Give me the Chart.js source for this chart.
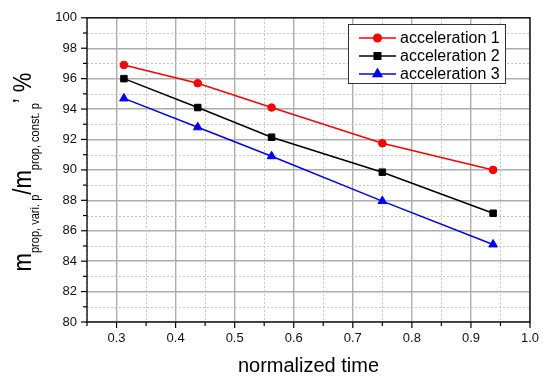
<!DOCTYPE html>
<html>
<head>
<meta charset="utf-8">
<script src="https://cdn.jsdelivr.net/npm/chart.js@4"></script>
<style>
  html, body { margin: 0; padding: 0; background: #fff; }
  #wrap { width: 550px; height: 378px; }
</style>
</head>
<body>
<div id="wrap"><canvas id="chart" width="550" height="378"></canvas></div>
<script>
const timeValues = [0.3125, 0.4375, 0.5625, 0.75, 0.9375];
const accel1 = [96.9, 95.7, 94.1, 91.75, 90.0];
const accel2 = [96.0, 94.1, 92.15, 89.85, 87.15];
const accel3 = [94.7, 92.8, 90.9, 87.95, 85.1];
const seriesNames = ["acceleration 1", "acceleration 2", "acceleration 3"];
const xTicks = [0.3, 0.4, 0.5, 0.6, 0.7, 0.8, 0.9, 1.0];
const yTicks = [80, 82, 84, 86, 88, 90, 92, 94, 96, 98, 100];

const FONT = "'Liberation Sans', Arial, sans-serif";
const majorGrid = "#adadad";
const minorGrid = "#c4c4c4";

function isMajor(v, list) {
  return list.some(t => Math.abs(t - v) < 1e-6);
}

function pts(ys) {
  return ys.map((y, i) => ({ x: timeValues[i], y }));
}

const styles = [
  { color: "#ff0000", pointStyle: "circle", radius: 3.8 },
  { color: "#000000", pointStyle: "rect", radius: 4.6 },
  { color: "#0000ff", pointStyle: "triangle", radius: 5 }
];

// frame, tick marks, y title and legend drawn on top of the chart
const decor = {
  id: "decor",
  beforeDatasetsDraw(chart) {
    const { ctx, chartArea: a } = chart;
    const xs = chart.scales.x, ys = chart.scales.y;
    ctx.save();
    ctx.strokeStyle = minorGrid;
    ctx.lineWidth = 1;
    ctx.setLineDash([2, 2]);
    xs.ticks.forEach(t => {
      if (isMajor(t.value, xTicks)) return;
      const px = Math.round(xs.getPixelForValue(t.value)) + 0.5;
      ctx.beginPath(); ctx.moveTo(px, a.top); ctx.lineTo(px, a.bottom); ctx.stroke();
    });
    ys.ticks.forEach(t => {
      if (isMajor(t.value, yTicks)) return;
      const py = Math.round(ys.getPixelForValue(t.value)) + 0.5;
      ctx.beginPath(); ctx.moveTo(a.left, py); ctx.lineTo(a.right, py); ctx.stroke();
    });
    ctx.restore();
  },
  afterDraw(chart) {
    const { ctx, chartArea: a } = chart;
    const xs = chart.scales.x, ys = chart.scales.y;
    ctx.save();
    ctx.strokeStyle = "#000";
    ctx.lineWidth = 1.3;
    ctx.strokeRect(a.left, a.top, a.right - a.left, a.bottom - a.top);

    ctx.lineWidth = 1.2;
    xs.ticks.forEach(t => {
      const px = xs.getPixelForValue(t.value);
      const len = isMajor(t.value, xTicks) ? 6 : 4;
      ctx.beginPath(); ctx.moveTo(px, a.bottom); ctx.lineTo(px, a.bottom + len); ctx.stroke();
    });
    ys.ticks.forEach(t => {
      const py = ys.getPixelForValue(t.value);
      const len = isMajor(t.value, yTicks) ? 6 : 4;
      ctx.beginPath(); ctx.moveTo(a.left, py); ctx.lineTo(a.left - len, py); ctx.stroke();
    });

    // y axis title with subscripts
    const parts = [
      { t: "m", size: 26, dy: 0 },
      { t: "prop, vari. p", size: 13, dy: 8 },
      { t: "/m", size: 26, dy: 0 },
      { t: "prop, const. p", size: 13, dy: 8 },
      { t: "\u2019 %", size: 26, dy: 0 }
    ];
    const squeeze = 0.85;
    let total = 0;
    parts.forEach(p => {
      ctx.font = p.size + "px " + FONT;
      p.w = ctx.measureText(p.t).width * squeeze;
      total += p.w;
    });
    ctx.translate(31, 172);
    ctx.rotate(-Math.PI / 2);
    ctx.fillStyle = "#000";
    ctx.textBaseline = "alphabetic";
    ctx.textAlign = "left";
    let cx = -total / 2;
    parts.forEach(p => {
      ctx.save();
      ctx.font = p.size + "px " + FONT;
      ctx.translate(cx, p.dy);
      ctx.scale(squeeze, 1);
      ctx.fillText(p.t, 0, 0);
      ctx.restore();
      cx += p.w;
    });
    ctx.restore();

    // legend
    ctx.save();
    ctx.fillStyle = "#fff";
    ctx.fillRect(348, 24, 157, 59);
    ctx.strokeStyle = "#333";
    ctx.lineWidth = 1;
    ctx.strokeRect(348.5, 24.5, 157, 59);
    const rows = [38, 56, 74];
    seriesNames.forEach((name, i) => {
      const s = styles[i];
      ctx.strokeStyle = s.color;
      ctx.fillStyle = s.color;
      ctx.lineWidth = 1.5;
      ctx.beginPath(); ctx.moveTo(359, rows[i]); ctx.lineTo(396, rows[i]); ctx.stroke();
      Chart.helpers.drawPoint(ctx, { pointStyle: s.pointStyle, radius: s.radius, rotation: 0, borderWidth: 1 }, 377.5, rows[i]);
      ctx.fillStyle = "#000";
      ctx.font = "16px " + FONT;
      ctx.textBaseline = "middle";
      ctx.fillText(name, 400, rows[i] + 1);
    });
    ctx.restore();
  }
};

new Chart(document.getElementById("chart").getContext("2d"), {
  type: "line",
  data: {
    datasets: [accel1, accel2, accel3].map((ys, i) => ({
      label: seriesNames[i],
      data: pts(ys),
      borderColor: styles[i].color,
      backgroundColor: styles[i].color,
      borderWidth: 1.5,
      pointStyle: styles[i].pointStyle,
      pointRadius: styles[i].radius,
      pointBorderWidth: 1,
      tension: 0,
      fill: false
    }))
  },
  options: {
    responsive: false,
    animation: false,
    layout: { padding: { top: 12, right: 20, left: 0, bottom: 0 } },
    plugins: { legend: { display: false }, tooltip: { enabled: false } },
    scales: {
      x: {
        type: "linear",
        min: 0.25, max: 1.0,
        afterBuildTicks(scale) {
          const t = [];
          for (let k = 5; k <= 20; k++) t.push({ value: k / 20 });
          scale.ticks = t;
        },
        afterFit(scale) { scale.height = 56; },
        grid: {
          drawTicks: false,
          color: ctx => (ctx.tick && isMajor(ctx.tick.value, xTicks)) ? majorGrid : "rgba(0,0,0,0)",
          lineWidth: 1.4
        },
        border: { display: false },
        ticks: {
          autoSkip: false,
          maxRotation: 0,
          padding: 9,
          color: "#111",
          font: { family: FONT, size: 13 },
          callback: v => isMajor(v, xTicks) ? v.toFixed(1) : ""
        },
        title: {
          display: true,
          text: "normalized time",
          color: "#000",
          font: { family: FONT, size: 20 },
          padding: { top: 2, bottom: 0 }
        }
      },
      y: {
        type: "linear",
        min: 80, max: 100,
        afterBuildTicks(scale) {
          const t = [];
          for (let v = 80; v <= 100; v++) t.push({ value: v });
          scale.ticks = t;
        },
        afterFit(scale) { scale.width = 87; },
        grid: {
          drawTicks: false,
          color: ctx => (ctx.tick && isMajor(ctx.tick.value, yTicks)) ? majorGrid : "rgba(0,0,0,0)",
          lineWidth: 1.4
        },
        border: { display: false },
        ticks: {
          autoSkip: false,
          padding: 10,
          color: "#111",
          font: { family: FONT, size: 13 },
          callback: v => isMajor(v, yTicks) ? String(v) : ""
        }
      }
    }
  },
  plugins: [decor]
});
</script>
</body>
</html>
